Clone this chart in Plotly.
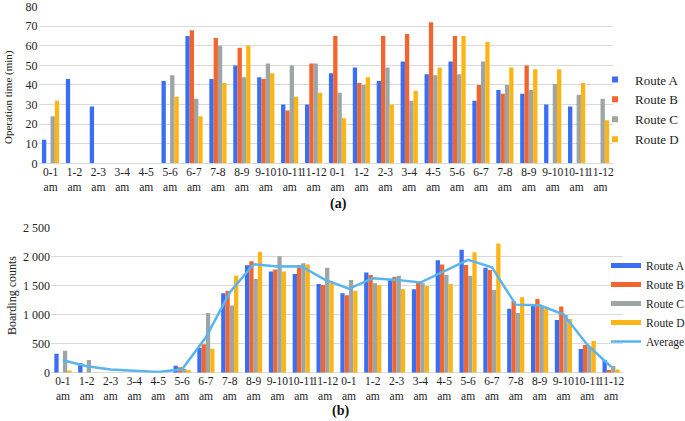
import plotly.graph_objects as go

# ---------------- data ----------------
hours = ["0-1", "1-2", "2-3", "3-4", "4-5", "5-6", "6-7", "7-8", "8-9", "9-10", "10-11", "11-12",
         "0-1", "1-2", "2-3", "3-4", "4-5", "5-6", "6-7", "7-8", "8-9", "9-10", "10-11", "11-12"]
period = ["am"] * 24
routes = ["Route A", "Route B", "Route C", "Route D"]

# (a) operation time (min)
op_a = [12, 43, 29, None, None, 42, 65, 43, 50, 44, 30, 30,
        46, 49, 42, 52, 45.5, 52, 32, 37.5, 35.5, 30, 29, None]
op_b = [None, None, None, None, None, None, 68, 64, 59, 43, 27, 51,
        65, 41, 65, 66, 72, 65, 40, 35.5, 50, None, None, None]
op_c = [24, None, None, None, None, 45, 33, 60, 44, 51, 50, 51,
        36, 40, 49, 32, 45, 45.5, 52, 40, 37.5, 40.5, 35, 33]
op_d = [32, None, None, None, None, 34, 24, 41, 60, 46, 34, 36,
        23, 44, 30, 37, 49, 65, 62, 49, 48, 48, 41, 22]

# (b) boarding counts
bd_a = [327, 167, None, None, None, 120, 431, 1368, 1851, 1741, 1701, 1529,
        1368, 1724, 1592, 1437, 1937, 2115, 1805, 1103, 1161, 908, 408, 218]
bd_b = [None, None, None, None, None, 92, 489, 1408, 1920, 1776, 1810, 1511,
        1333, 1684, 1649, 1580, 1862, 1856, 1770, 1236, 1270, 1138, 477, 46]
bd_c = [379, 218, None, None, None, 69, 1029, 1155, 1615, 2006, 1885, 1805,
        1598, 1540, 1667, 1540, 1684, 1667, 1425, 1029, 1138, 994, 448, 115]
bd_d = [40, None, None, None, None, 46, 414, 1667, 2080, 1741, 1862, 1575,
        1408, 1506, 1437, 1494, 1529, 2075, 2224, 1299, 1103, 925, 546, 57]
bd_avg = [213, 110, 57, 34, 11, 60, 609, 1380, 1868, 1828, 1833, 1598,
          1445, 1626, 1598, 1552, 1753, 1943, 1816, 1172, 1161, 1006, 483, 103]

colors = ["#3a6ef3", "#f2652e", "#9da6a5", "#fdb515"]
avg_color = "#5ab4ee"
FONT = "Liberation Serif"

W, H = 685, 421
def px(x):
    return x / W
def py(y):
    return (H - y) / H

pos = list(range(len(hours)))
ticktext = [f"{h}<br>{p}" for h, p in zip(hours, period)]

fig = go.Figure()

op_series = [op_a, op_b, op_c, op_d]
bd_series = [bd_a, bd_b, bd_c, bd_d]

for name, vals, col in zip(routes, op_series, colors):
    fig.add_trace(go.Bar(x=pos, y=vals, name=name, marker=dict(color=col, line=dict(width=0)),
                         xaxis="x", yaxis="y", showlegend=False))
for name, vals, col in zip(routes, bd_series, colors):
    fig.add_trace(go.Bar(x=pos, y=vals, name=name, marker=dict(color=col, line=dict(width=0)),
                         xaxis="x2", yaxis="y2", showlegend=False))
fig.add_trace(go.Scatter(x=pos, y=bd_avg, name="Average", mode="lines",
                         line=dict(color=avg_color, width=2.5),
                         xaxis="x2", yaxis="y2", showlegend=False))

# legend entries
for i, (name, col) in enumerate(zip(routes, colors)):
    fig.add_trace(go.Scatter(x=[None], y=[None], name=name, mode="markers",
                             marker=dict(symbol="square", size=6, color=col),
                             xaxis="x", yaxis="y", legend="legend", legendgroup=f"a{i}"))
for name, col in zip(routes, colors):
    fig.add_trace(go.Scatter(x=[None], y=[None], name=name, mode="lines",
                             line=dict(color=col, width=5),
                             xaxis="x2", yaxis="y2", legend="legend2"))
fig.add_trace(go.Scatter(x=[None], y=[None], name="Average", mode="lines",
                         line=dict(color=avg_color, width=2.5),
                         xaxis="x2", yaxis="y2", legend="legend2"))

grid = "#d9d9d9"
xcommon = dict(tickmode="array", tickvals=pos, ticktext=ticktext, range=[-0.5, 23.5],
               showgrid=False, zeroline=False, showline=False, ticks="", tickangle=0,
               automargin=False, ticklabeloverflow="allow",
               tickfont=dict(family=FONT, size=11.5, color="#222"))
ycommon = dict(showgrid=True, gridcolor=grid, gridwidth=1, zeroline=True, zerolinecolor=grid,
               zerolinewidth=1, showline=False, ticks="", automargin=False,
               tickmode="linear", tick0=0, ticklabeloverflow="allow",
               tickfont=dict(family=FONT, size=12, color="#222"))
fig.update_layout(
    template="none",
    width=W, height=H,
    margin=dict(l=0, r=0, t=0, b=0, autoexpand=False),
    paper_bgcolor="white", plot_bgcolor="white",
    font=dict(family=FONT, size=12, color="#222"),
    barmode="group", bargap=0.28, bargroupgap=0,
    separators=". ",
    xaxis=dict(domain=[px(38.6), px(612.5)], anchor="y", **xcommon),
    yaxis=dict(domain=[py(163.3), py(6.2)], anchor="x", range=[0, 80.25], dtick=10, **ycommon),
    xaxis2=dict(domain=[px(51), px(623)], anchor="y2", **xcommon),
    yaxis2=dict(domain=[py(372.7), py(227.2)], anchor="x2", range=[0, 2505], dtick=500,
                separatethousands=True, **ycommon),
    legend=dict(x=px(595), xanchor="left", y=py(109.5), yanchor="middle",
                font=dict(family=FONT, size=13, color="#222"), bgcolor="rgba(0,0,0,0)",
                tracegroupgap=0),
    legend2=dict(x=px(606), xanchor="left", y=py(303.5), yanchor="middle",
                 font=dict(family=FONT, size=11.5, color="#222"), bgcolor="rgba(0,0,0,0)"),
    annotations=[
        dict(text="Operation time (min)", x=px(8), y=py(97), xref="paper", yref="paper",
             xanchor="center", yanchor="middle",
             textangle=-90, showarrow=False, font=dict(family=FONT, size=11, color="#222")),
        dict(text="Boarding counts", x=px(12), y=py(296), xref="paper", yref="paper",
             xanchor="center", yanchor="middle",
             textangle=-90, showarrow=False, font=dict(family=FONT, size=12, color="#222")),
        dict(text="<b>(a)</b>", x=px(338), y=py(204), xref="paper", yref="paper",
             xanchor="center", yanchor="middle",
             showarrow=False, font=dict(family=FONT, size=14, color="#111")),
        dict(text="<b>(b)</b>", x=px(340), y=py(411), xref="paper", yref="paper",
             xanchor="center", yanchor="middle",
             showarrow=False, font=dict(family=FONT, size=14, color="#111")),
    ],
)

fig.write_html("out.html", config={"responsive": False, "displayModeBar": False},
               post_script="document.body.style.margin='0px';document.body.style.overflow='hidden';")
